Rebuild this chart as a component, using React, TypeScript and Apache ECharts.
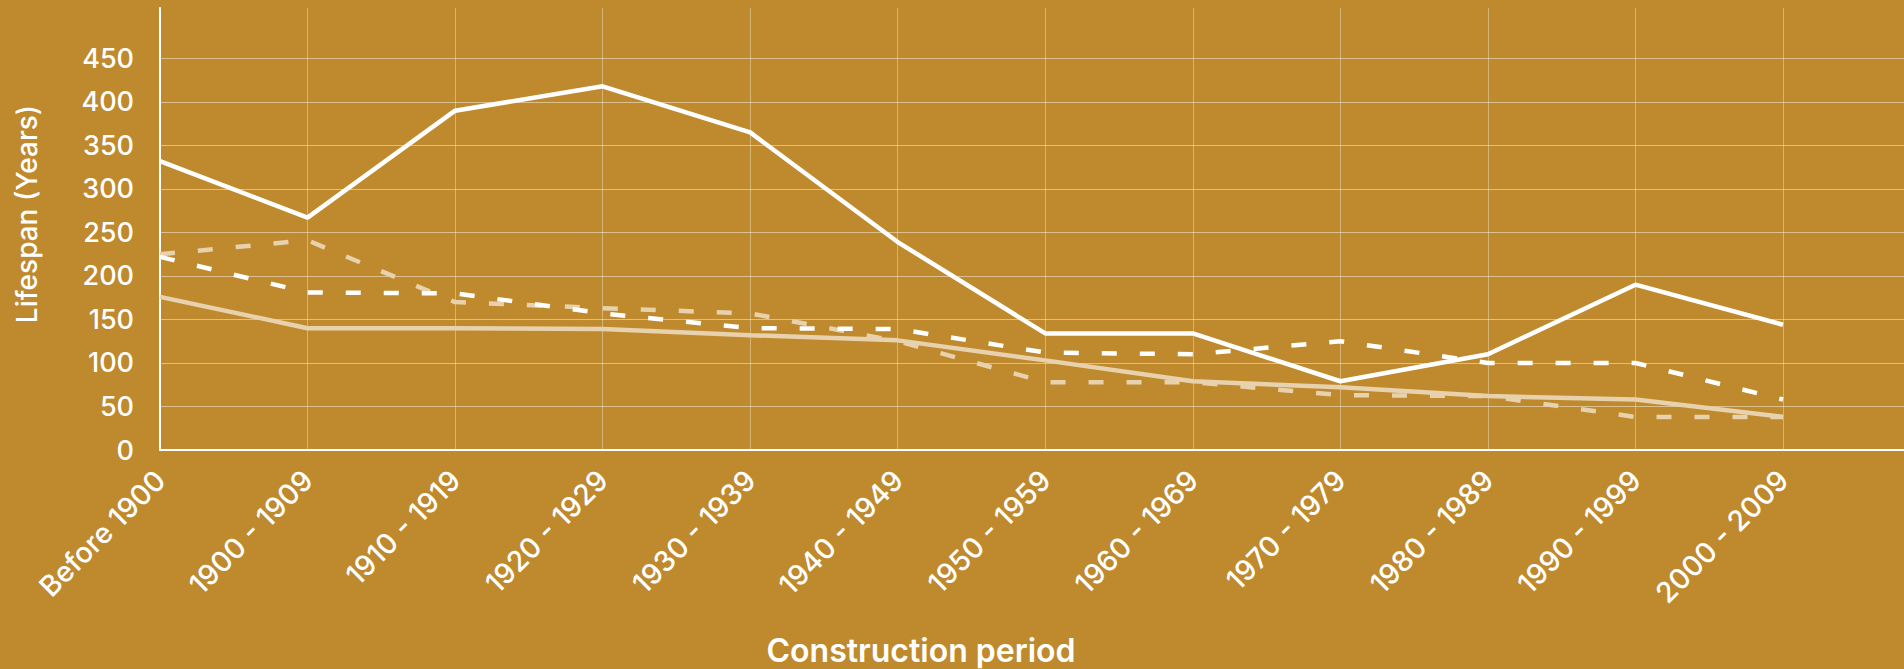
import React, { useEffect, useRef } from "react";
import * as echarts from "echarts";

const categories = [
  "Before 1900",
  "1900 - 1909",
  "1910 - 1919",
  "1920 - 1929",
  "1930 - 1939",
  "1940 - 1949",
  "1950 - 1959",
  "1960 - 1969",
  "1970 - 1979",
  "1980 - 1989",
  "1990 - 1999",
  "2000 - 2009",
];

// white solid
const seriesA = [332, 267, 390, 418, 365, 239, 134, 134, 79, 110, 190, 144];
// white dashed
const seriesB = [222, 181, 180, 157, 140, 139, 112, 110, 125, 100, 100, 58];
// beige solid
const seriesC = [176, 140, 140, 139, 132, 126, 103, 79, 72, 62, 58, 38];
// beige dashed
const seriesD = [225, 241, 170, 163, 157, 125, 78, 78, 63, 62, 38, 38];

const yTickMaxLabel = 450;
const yAxisMax = 508;
const yInterval = 50;
const xAxisMax = 11.82;

const BG = "#BF8A2D";
const WHITE = "#FFFFFF";
const BEIGE = "#E7D2AD";
const FONT = "Inter";

export default function App() {
  const ref = useRef<HTMLDivElement>(null);

  useEffect(() => {
    if (!ref.current) return;
    const chart = echarts.init(ref.current, null, { renderer: "svg" });
    const toXY = (arr: number[]) => arr.map((v, i) => [i, v]);
    const gridColors: string[] = [];
    for (let v = 0; v <= yAxisMax; v += yInterval) {
      gridColors.push(v <= yTickMaxLabel ? "rgba(255,255,255,0.45)" : "rgba(0,0,0,0)");
    }
    gridColors.push("rgba(0,0,0,0)");

    const mk = (name: string, data: number[], color: string, dashed: boolean) => ({
      name,
      type: "line",
      data: toXY(data),
      symbol: "none",
      showSymbol: false,
      lineStyle: { color, width: 4.5, type: dashed ? [15, 23] : "solid" },
      itemStyle: { color },
      emphasis: { disabled: true },
    });

    chart.setOption({
      animation: false,
      backgroundColor: BG,
      textStyle: { fontFamily: FONT },
      grid: { left: 160, right: 0, top: 8, bottom: 219 },
      xAxis: {
        type: "value",
        min: 0,
        max: xAxisMax,
        interval: 1,
        axisLine: { show: true, onZero: true, lineStyle: { color: WHITE, width: 2 } },
        axisTick: { show: false },
        splitLine: {
          show: true,
          showMaxLine: false,
          lineStyle: { color: "rgba(255,255,255,0.35)", width: 1 },
        },
        axisLabel: {
          rotate: 45,
          margin: 25,
          padding: [22, 0, 0, 0],
          color: WHITE,
          fontFamily: FONT,
          fontSize: 28.5,
          fontWeight: 500,
          showMaxLabel: false,
          formatter: (v: number) =>
            Number.isInteger(v) && v >= 0 && v < categories.length ? categories[v] : "",
        },
      },
      yAxis: {
        type: "value",
        min: 0,
        max: yAxisMax,
        interval: yInterval,
        axisLine: { show: true, lineStyle: { color: WHITE, width: 2 } },
        axisTick: { show: false },
        splitLine: { show: true, lineStyle: { color: gridColors, width: 1 } },
        axisLabel: {
          color: WHITE,
          fontFamily: FONT,
          fontSize: 27,
          fontWeight: 500,
          margin: 26,
          showMaxLabel: false,
          formatter: (v: number) => (v <= yTickMaxLabel ? String(v) : ""),
        },
      },
      graphic: [
        {
          type: "text",
          x: 27,
          y: 214,
          rotation: Math.PI / 2,
          style: {
            text: "Lifespan (Years)",
            fill: WHITE,
            fontFamily: FONT,
            fontSize: 28,
            fontWeight: 500,
            align: "center",
            verticalAlign: "middle",
          },
        },
        {
          type: "text",
          x: 921,
          y: 650,
          style: {
            text: "Construction period",
            fill: WHITE,
            fontFamily: FONT,
            fontSize: 32,
            fontWeight: 600,
            align: "center",
            verticalAlign: "middle",
          },
        },
      ],
      series: [
        mk("Beige dashed", seriesD, BEIGE, true),
        mk("Beige solid", seriesC, BEIGE, false),
        mk("White dashed", seriesB, WHITE, true),
        mk("White solid", seriesA, WHITE, false),
      ],
    });
    return () => chart.dispose();
  }, []);

  return (
    <div
      ref={ref}
      style={{ position: "fixed", left: 0, top: 0, width: "1904px", height: "669px" }}
    />
  );
}
